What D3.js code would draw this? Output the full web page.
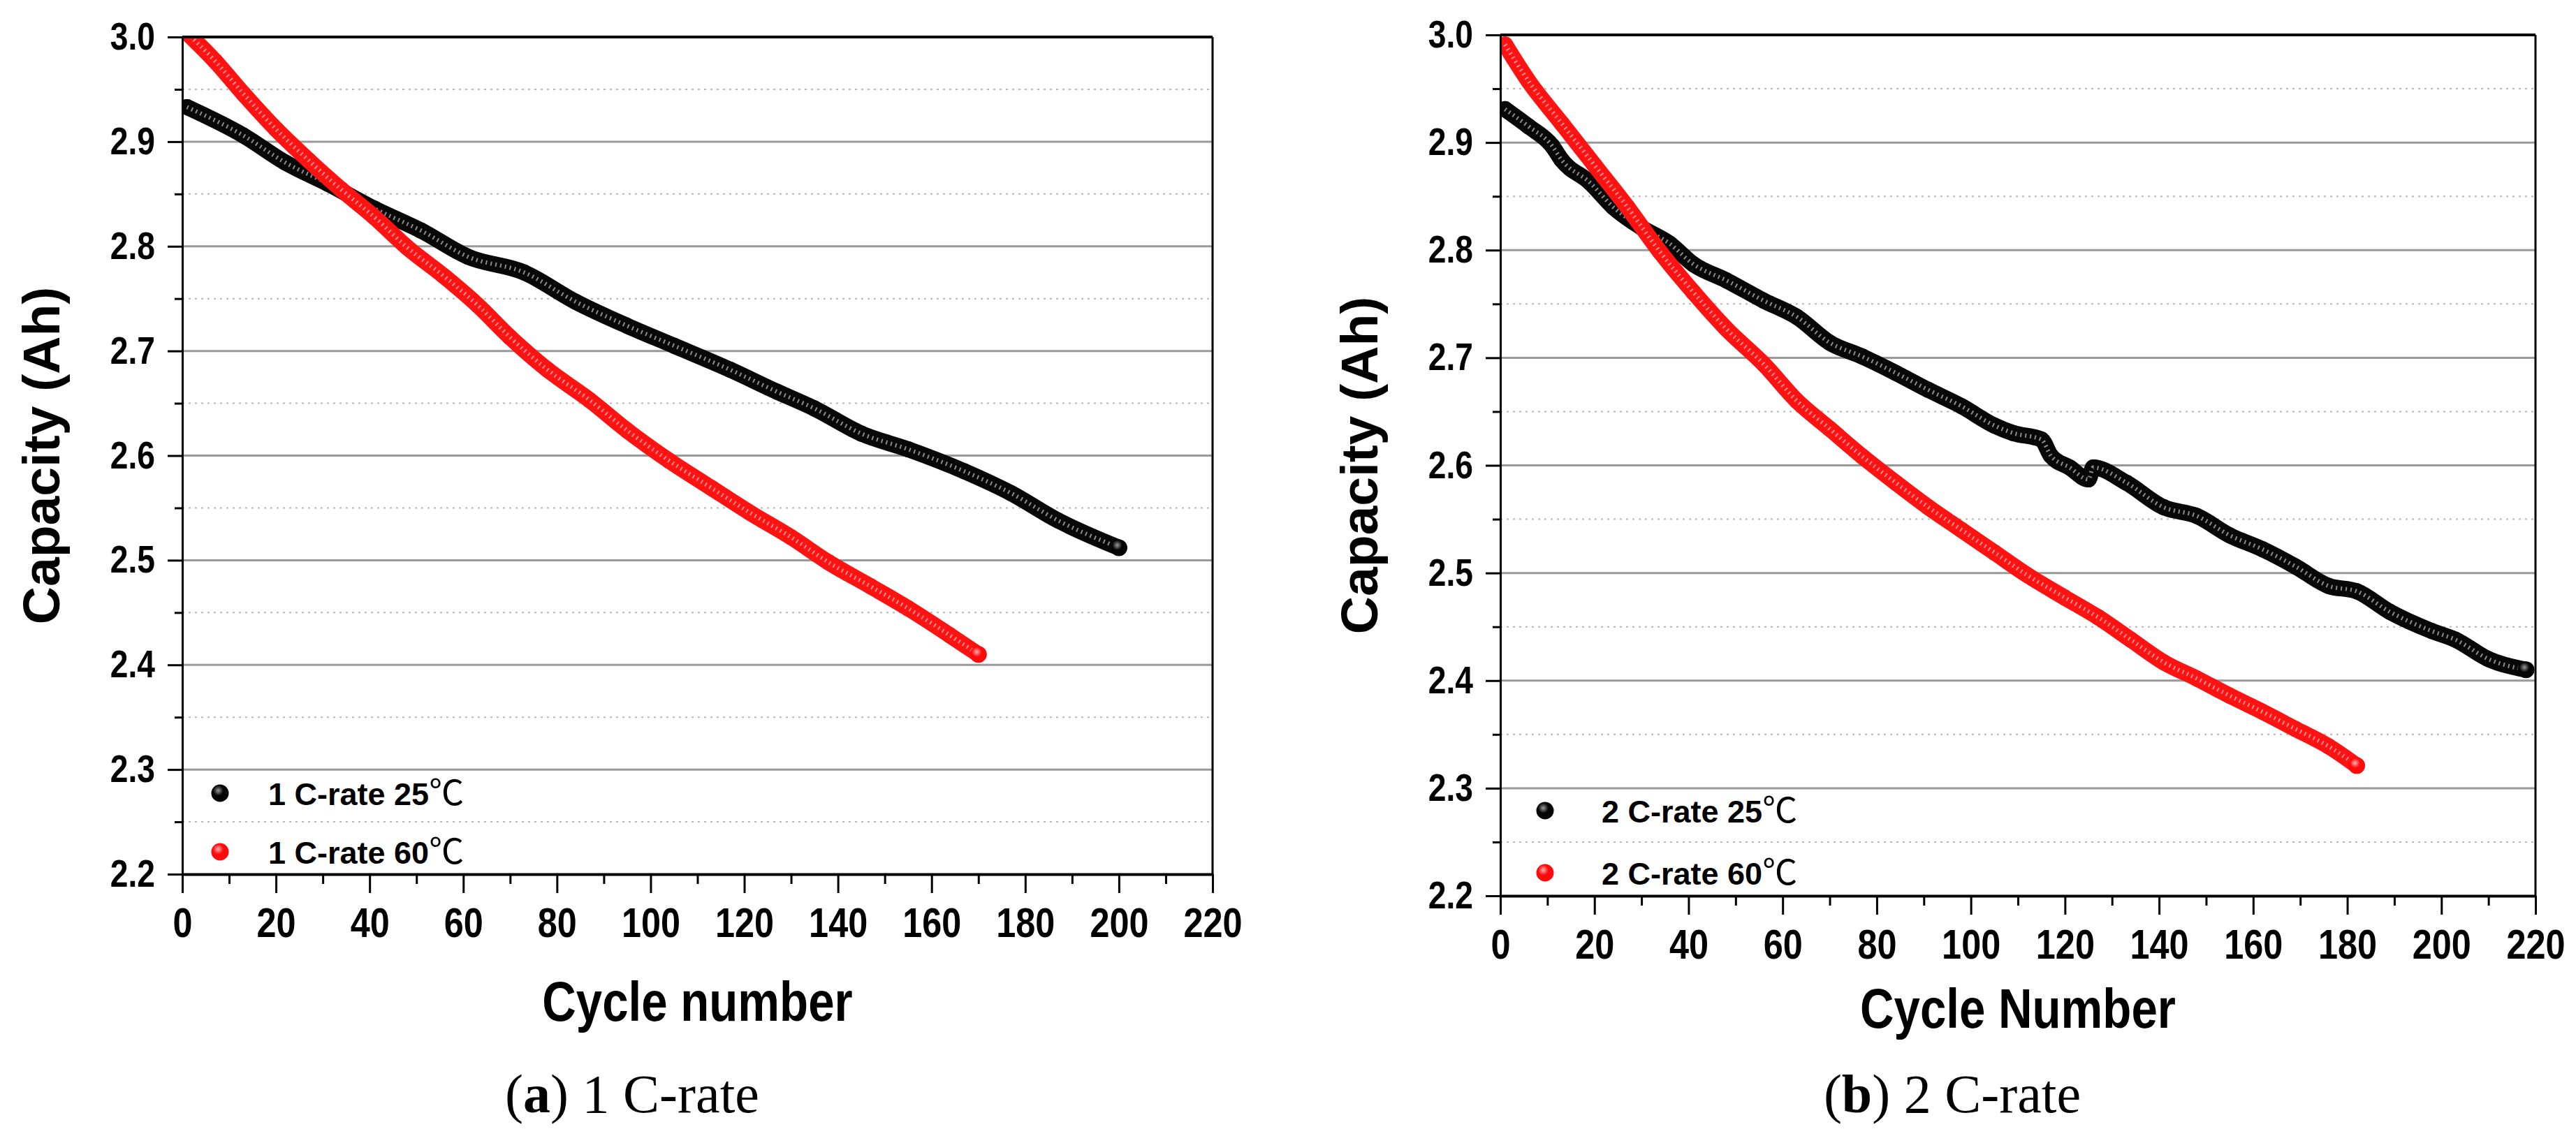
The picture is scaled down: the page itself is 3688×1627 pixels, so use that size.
<!DOCTYPE html>
<html>
<head>
<meta charset="utf-8">
<script src="https://cdn.jsdelivr.net/npm/d3@7"></script>
<style>
  body { margin: 0; background: #fff; }
  svg { display: block; }
</style>
</head>
<body>
<svg id="chart"></svg>
<script>
// axis ticks
const xMajorTicks = [0, 20, 40, 60, 80, 100, 120, 140, 160, 180, 200, 220];
const xMinorTicks = [10, 30, 50, 70, 90, 110, 130, 150, 170, 190, 210];
const yMajorTicks = [2.2, 2.3, 2.4, 2.5, 2.6, 2.7, 2.8, 2.9, 3.0];
const yMinorTicks = [2.25, 2.35, 2.45, 2.55, 2.65, 2.75, 2.85, 2.95];

// (a) 1 C-rate, 25 C
const cycles1C25 = [1, 13, 22, 31, 41, 51, 61, 73, 84, 95, 105, 117, 127, 135, 145, 155, 167, 177, 187, 200];
const capacity1C25 = [2.933, 2.906, 2.880, 2.860, 2.836, 2.815, 2.790, 2.775, 2.747, 2.724, 2.705, 2.682, 2.661, 2.645, 2.621, 2.606, 2.585, 2.564, 2.538, 2.512];
// (a) 1 C-rate, 60 C
const cycles1C60 = [1, 7, 13, 20, 27, 34, 41, 48, 56, 63, 70, 78, 87, 95, 104, 113, 121, 130, 138, 147, 155, 164, 170];
const capacity1C60 = [3.004, 2.977, 2.946, 2.912, 2.882, 2.854, 2.828, 2.799, 2.771, 2.744, 2.713, 2.682, 2.653, 2.624, 2.595, 2.569, 2.546, 2.522, 2.498, 2.475, 2.454, 2.428, 2.410];
// (b) 2 C-rate, 25 C
const cycles2C25 = [1, 6, 11, 13, 19, 24, 30, 36, 41, 48, 56, 63, 70, 77, 84, 91, 98, 105, 109, 115, 117, 121, 125, 126, 133, 141, 148, 155, 162, 169, 176, 182, 189, 198, 203, 210, 218];
const capacity2C25 = [2.931, 2.915, 2.897, 2.884, 2.863, 2.840, 2.821, 2.806, 2.787, 2.772, 2.753, 2.738, 2.714, 2.701, 2.686, 2.670, 2.655, 2.637, 2.630, 2.624, 2.609, 2.598, 2.587, 2.598, 2.584, 2.561, 2.553, 2.535, 2.522, 2.506, 2.488, 2.483, 2.464, 2.446, 2.438, 2.420, 2.410];
// (b) 2 C-rate, 60 C
const cycles2C60 = [1, 6, 13, 20, 27, 34, 41, 48, 56, 63, 70, 77, 84, 91, 98, 105, 112, 120, 127, 134, 141, 148, 155, 162, 169, 176, 182];
const capacity2C60 = [2.991, 2.957, 2.918, 2.879, 2.840, 2.798, 2.761, 2.727, 2.694, 2.660, 2.634, 2.608, 2.584, 2.561, 2.540, 2.519, 2.498, 2.477, 2.459, 2.438, 2.417, 2.402, 2.386, 2.371, 2.355, 2.339, 2.321];

const seriesNames1 = ["1 C-rate 25", "1 C-rate 60"];
const seriesNames2 = ["2 C-rate 25", "2 C-rate 60"];

const width = 3688;
const height = 1627;
const sansFont = "'Liberation Sans', Arial, sans-serif";
const serifFont = "'Liberation Serif', 'Times New Roman', serif";

const svg = d3.select("#chart")
    .attr("width", width)
    .attr("height", height)
    .attr("viewBox", `0 0 ${width} ${height}`);

svg.append("rect").attr("width", width).attr("height", height).attr("fill", "#fff");

const defs = svg.append("defs");
function ballGradient(id, light, dark) {
    const g = defs.append("radialGradient").attr("id", id)
        .attr("cx", "40%").attr("cy", "35%").attr("r", "65%");
    g.append("stop").attr("offset", "0%").attr("stop-color", light);
    g.append("stop").attr("offset", "45%").attr("stop-color", dark);
    g.append("stop").attr("offset", "100%").attr("stop-color", dark);
}
ballGradient("ballBlack", "#9a9a9a", "#050505");
ballGradient("ballRed", "#ffb0b0", "#ff0a0a");

// squeeze text horizontally (the figure's labels are condensed)
function condense(sel, factor) {
    sel.each(function () {
        const len = this.getComputedTextLength();
        d3.select(this)
            .attr("textLength", len * factor)
            .attr("lengthAdjust", "spacingAndGlyphs");
    });
}

const styles = [
    { band: "#080808", inner: "#8c8c8c", ball: "url(#ballBlack)" },
    { band: "#ff1212", inner: "#ff9090", ball: "url(#ballRed)" },
];

const panels = [
    {
        id: "a", left: 261, right: 1736, top: 53, bottom: 1252,
        series: [
            { x: cycles1C25, y: capacity1C25, name: seriesNames1[0] },
            { x: cycles1C60, y: capacity1C60, name: seriesNames1[1] },
        ],
        yLabelX: 85, xLabel: "Cycle number", xLabelY: 1462,
        caption: " 1 C-rate", captionX: 905, captionY: 1593,
        legend: { markerX: 315, rows: [1136, 1220], textX: 384 },
    },
    {
        id: "b", left: 2148, right: 3630, top: 50, bottom: 1283,
        series: [
            { x: cycles2C25, y: capacity2C25, name: seriesNames2[0] },
            { x: cycles2C60, y: capacity2C60, name: seriesNames2[1] },
        ],
        yLabelX: 1972, xLabel: "Cycle Number", xLabelY: 1472,
        caption: " 2 C-rate", captionX: 2795, captionY: 1593,
        legend: { markerX: 2212, rows: [1161, 1250], textX: 2293 },
    },
];

panels.forEach(drawPanel);

function drawPanel(p) {
    const x = d3.scaleLinear().domain([0, 220]).range([p.left, p.right]);
    const y = d3.scaleLinear().domain([2.2, 3.0]).range([p.bottom, p.top]);
    const g = svg.append("g").attr("class", "panel-" + p.id);

    // grid lines
    g.append("g")
        .selectAll("line")
        .data(yMinorTicks)
        .join("line")
        .attr("x1", p.left).attr("x2", p.right)
        .attr("y1", (d) => y(d)).attr("y2", (d) => y(d))
        .attr("stroke", "#b8b8b8")
        .attr("stroke-width", 2)
        .attr("stroke-dasharray", "3,6");
    g.append("g")
        .selectAll("line")
        .data(yMajorTicks.filter((d) => d > 2.2 && d < 3.0))
        .join("line")
        .attr("x1", p.left).attr("x2", p.right)
        .attr("y1", (d) => y(d)).attr("y2", (d) => y(d))
        .attr("stroke", "#999")
        .attr("stroke-width", 3);

    // series
    const clipId = "clip-" + p.id;
    defs.append("clipPath").attr("id", clipId)
        .append("rect")
        .attr("x", p.left).attr("y", p.top)
        .attr("width", p.right - p.left).attr("height", p.bottom - p.top);
    const plot = g.append("g").attr("clip-path", `url(#${clipId})`);
    const line = d3.line()
        .x((d) => x(d[0]))
        .y((d) => y(d[1]))
        .curve(d3.curveMonotoneX);

    p.series.forEach((s, i) => {
        const pts = s.x.map((c, k) => [c, s.y[k]]);
        const st = styles[i];
        plot.append("path")
            .datum(pts)
            .attr("d", line)
            .attr("fill", "none")
            .attr("stroke", st.band)
            .attr("stroke-width", 23)
            .attr("stroke-linecap", "round")
            .attr("stroke-linejoin", "round");
        plot.append("g")
            .selectAll("circle")
            .data(pts)
            .join("circle")
            .attr("cx", (d) => x(d[0]))
            .attr("cy", (d) => y(d[1]))
            .attr("r", 11.5)
            .attr("fill", st.band);
        plot.append("path")
            .datum(pts)
            .attr("d", line)
            .attr("fill", "none")
            .attr("stroke", st.inner)
            .attr("stroke-width", 6)
            .attr("stroke-dasharray", "2,5");
        const last = pts[pts.length - 1];
        plot.append("circle")
            .attr("cx", x(last[0]))
            .attr("cy", y(last[1]))
            .attr("r", 12)
            .attr("fill", st.ball);
    });

    // frame: top and right
    g.append("line")
        .attr("x1", p.left).attr("x2", p.right)
        .attr("y1", y(3.0)).attr("y2", y(3.0))
        .attr("stroke", "#000").attr("stroke-width", 4);
    g.append("line")
        .attr("x1", p.right).attr("x2", p.right)
        .attr("y1", p.top).attr("y2", p.bottom)
        .attr("stroke", "#000").attr("stroke-width", 3);

    // y axis
    g.append("g")
        .attr("transform", `translate(${p.left},0)`)
        .call(d3.axisLeft(y).tickValues(yMinorTicks).tickSize(11).tickSizeOuter(0).tickFormat(""))
        .call((a) => a.select(".domain").remove())
        .call((a) => a.selectAll("line").attr("stroke-width", 3));
    const yAxis = g.append("g")
        .attr("transform", `translate(${p.left},0)`)
        .call(d3.axisLeft(y).tickValues(yMajorTicks).tickSize(21).tickSizeOuter(0)
            .tickPadding(18).tickFormat(d3.format(".1f")));
    yAxis.select(".domain").attr("stroke-width", 3);
    yAxis.selectAll("line").attr("stroke-width", 3);
    yAxis.selectAll("text")
        .attr("font-family", sansFont)
        .attr("font-weight", "bold")
        .attr("font-size", 55)
        .attr("fill", "#000")
        .call(condense, 0.84);

    // x axis
    g.append("g")
        .attr("transform", `translate(0,${p.bottom})`)
        .call(d3.axisBottom(x).tickValues(xMinorTicks).tickSize(14).tickSizeOuter(0).tickFormat(""))
        .call((a) => a.select(".domain").remove())
        .call((a) => a.selectAll("line").attr("stroke-width", 3));
    const xAxis = g.append("g")
        .attr("transform", `translate(0,${p.bottom})`)
        .call(d3.axisBottom(x).tickValues(xMajorTicks).tickSize(27).tickSizeOuter(0).tickPadding(20));
    xAxis.select(".domain").attr("stroke-width", 4);
    xAxis.selectAll("line").attr("stroke-width", 3);
    xAxis.selectAll("text")
        .attr("font-family", sansFont)
        .attr("font-weight", "bold")
        .attr("font-size", 60)
        .attr("fill", "#000")
        .call(condense, 0.84);

    // axis titles
    g.append("text")
        .attr("transform", `translate(${p.yLabelX},${(p.top + p.bottom) / 2}) rotate(-90)`)
        .attr("text-anchor", "middle")
        .attr("font-family", sansFont)
        .attr("font-weight", "bold")
        .attr("font-size", 75)
        .text("Capacity (Ah)");
    g.append("text")
        .attr("x", (p.left + p.right) / 2)
        .attr("y", p.xLabelY)
        .attr("text-anchor", "middle")
        .attr("font-family", sansFont)
        .attr("font-weight", "bold")
        .attr("font-size", 80)
        .text(p.xLabel)
        .call(condense, 0.84);

    // legend
    const legend = g.append("g");
    p.series.forEach((s, i) => {
        const cy = p.legend.rows[i];
        legend.append("circle")
            .attr("cx", p.legend.markerX)
            .attr("cy", cy)
            .attr("r", 12.5)
            .attr("fill", styles[i].ball);
        const t = legend.append("text")
            .attr("x", p.legend.textX)
            .attr("y", cy + 17)
            .attr("font-family", sansFont)
            .attr("font-weight", "bold")
            .attr("font-size", 45);
        t.append("tspan").text(s.name);
        t.append("tspan")
            .attr("font-family", "'Noto Sans CJK KR', 'DejaVu Sans', sans-serif")
            .attr("font-weight", "normal")
            .attr("font-size", 50)
            .text("℃");
    });

    // caption
    const cap = svg.append("text")
        .attr("x", p.captionX)
        .attr("y", p.captionY)
        .attr("text-anchor", "middle")
        .attr("font-family", serifFont)
        .attr("font-size", 78)
        .attr("fill", "#000");
    cap.append("tspan").text("(");
    cap.append("tspan").attr("font-weight", "bold").text(p.id);
    cap.append("tspan").text(")");
    cap.append("tspan").text(p.caption);
}
</script>
</body>
</html>
